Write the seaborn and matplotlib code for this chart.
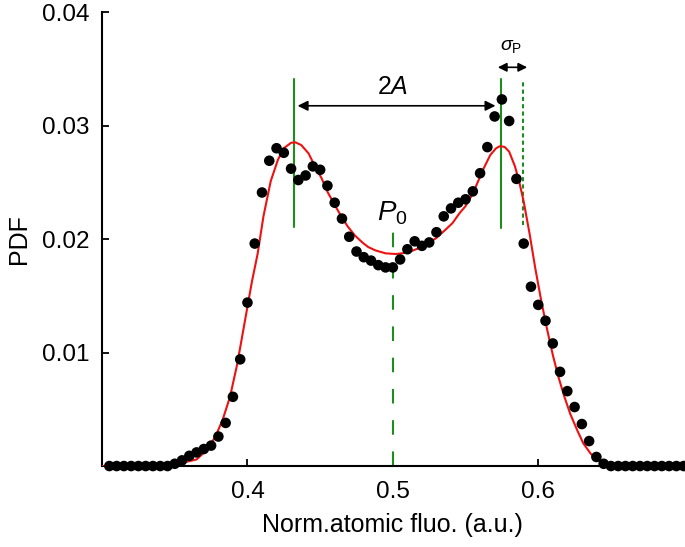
import numpy as np
import pandas as pd
import seaborn as sns
import matplotlib.pyplot as plt

# histogram bins (bin centres) and measured PDF
fluo = [0.305, 0.310, 0.315, 0.320, 0.325, 0.330, 0.335, 0.340, 0.345, 0.350,
        0.355, 0.360, 0.365, 0.370, 0.375, 0.380, 0.385, 0.390, 0.395, 0.400,
        0.405, 0.410, 0.415, 0.420, 0.425, 0.430, 0.435, 0.440, 0.445, 0.450,
        0.455, 0.460, 0.465, 0.470, 0.475, 0.480, 0.485, 0.490, 0.495, 0.500,
        0.505, 0.510, 0.515, 0.520, 0.525, 0.530, 0.535, 0.540, 0.545, 0.550,
        0.555, 0.560, 0.565, 0.570, 0.575, 0.580, 0.585, 0.590, 0.595, 0.600,
        0.605, 0.610, 0.615, 0.620, 0.625, 0.630, 0.635, 0.640, 0.645, 0.650,
        0.655, 0.660, 0.665, 0.670, 0.675, 0.680, 0.685, 0.690, 0.695, 0.700]
pdf = [0, 0, 0, 0, 0, 0, 0, 0, 0, 0.0002,
       0.0005, 0.0009, 0.0012, 0.0015, 0.0018, 0.0026, 0.0038, 0.0061, 0.0094, 0.0144,
       0.0196, 0.0241, 0.0269, 0.0280, 0.0276, 0.0262, 0.0252, 0.0256, 0.0264, 0.0261,
       0.0247, 0.0232, 0.0218, 0.0202, 0.0189, 0.0184, 0.0181, 0.0177, 0.0175, 0.0175,
       0.0182, 0.0191, 0.0198, 0.0194, 0.0197, 0.0206, 0.0220, 0.0227, 0.0232, 0.0235,
       0.0242, 0.0258, 0.0281, 0.0308, 0.0323, 0.0304, 0.0253, 0.0196, 0.0158, 0.0142,
       0.0128, 0.0108, 0.0083, 0.0066, 0.0052, 0.0037, 0.0022, 0.0008, 0.0002, 0,
       0, 0, 0, 0, 0, 0, 0, 0, 0, 0]

# fitted curve
fit_x = [0.300, 0.330, 0.345, 0.355, 0.365, 0.372, 0.378, 0.383, 0.388, 0.393,
         0.398, 0.403, 0.407, 0.411, 0.416, 0.421, 0.425, 0.430, 0.433, 0.437,
         0.442, 0.446, 0.451, 0.455, 0.460, 0.465, 0.469, 0.474, 0.479, 0.483,
         0.488, 0.495, 0.502, 0.510, 0.518, 0.524, 0.530, 0.536, 0.541, 0.546,
         0.550, 0.555, 0.559, 0.562, 0.567, 0.571, 0.574, 0.577, 0.580, 0.584,
         0.587, 0.590, 0.594, 0.598, 0.602, 0.606, 0.610, 0.614, 0.618, 0.622,
         0.627, 0.631, 0.636, 0.641, 0.645, 0.650, 0.660, 0.700]
fit_y = [0, 0.00002, 0.0001, 0.00028, 0.00058, 0.0014, 0.0026, 0.0041, 0.0061, 0.0090,
         0.0126, 0.0162, 0.0187, 0.0220, 0.0251, 0.0270, 0.0280, 0.02848, 0.02852, 0.02828,
         0.02755, 0.02652, 0.02535, 0.02417, 0.0230, 0.0219, 0.0211, 0.0203, 0.0197, 0.0193,
         0.0190, 0.01874, 0.01868, 0.0188, 0.0192, 0.0196, 0.0201, 0.0208, 0.0214, 0.0223,
         0.0229, 0.0240, 0.0252, 0.0261, 0.0274, 0.0280, 0.0282, 0.0281, 0.0277, 0.0264,
         0.0250, 0.0233, 0.0205, 0.0174, 0.0146, 0.0121, 0.0098, 0.0078, 0.0061, 0.0046,
         0.0031, 0.0020, 0.0011, 0.0005, 0.00024, 0.0001, 0, 0]

# markers on the plot
peak_left, peak_right = 0.432, 0.5745
p0 = 0.500
sigma_edge = 0.5896

df = pd.DataFrame({"x": fluo, "pdf": pdf})
fit = pd.DataFrame({"x": fit_x, "y": fit_y})

sns.set_style("ticks")
plt.rcParams['font.family'] = ['Liberation Sans', 'DejaVu Sans']
plt.rcParams['mathtext.fontset'] = 'custom'
plt.rcParams['mathtext.rm'] = 'Liberation Sans'
plt.rcParams['mathtext.it'] = 'Liberation Sans:italic'
plt.rcParams['text.color'] = 'black'
plt.rcParams['axes.labelcolor'] = 'black'

fig = plt.figure(figsize=(6.85, 5.47), dpi=100)
ax = fig.add_axes([0.149, 0.148, 0.849, 0.830])

green = '#1e8c1e'

# vertical guides
ax.plot([peak_left, peak_left], [0.0211, 0.0341], color=green, lw=1.5, zorder=2)
ax.plot([peak_right, peak_right], [0.0210, 0.0341], color=green, lw=1.5, zorder=2)
ax.plot([sigma_edge, sigma_edge], [0.0212, 0.0340], color=green, lw=1.5,
        linestyle=(0, (2, 1.5)), zorder=2)
ax.plot([p0, p0], [0, 0.0213], color=green, lw=1.5,
        linestyle=(0, (7, 8)), zorder=2, clip_on=False)

sns.lineplot(data=fit, x="x", y="y", color='#ee1111', lw=1.5, ax=ax, zorder=3)
sns.scatterplot(data=df, x="x", y="pdf", color='black', s=58, edgecolor='none',
                ax=ax, zorder=4, clip_on=False)

# arrows and labels
ax.annotate('', xy=(0.4345, 0.03174), xytext=(0.5706, 0.03174),
            arrowprops=dict(arrowstyle='<|-|>', color='black', lw=1.2,
                            mutation_scale=15, shrinkA=0, shrinkB=0))
ax.text(0.5, 0.0334, r'$2A$', fontsize=18, ha='center', va='center')
ax.annotate('', xy=(0.5722, 0.03513), xytext=(0.5924, 0.03513),
            arrowprops=dict(arrowstyle='<|-|>', color='black', lw=1.2,
                            mutation_scale=13, shrinkA=0, shrinkB=0))
ax.text(0.5815, 0.0370, r'$\sigma_{\mathrm{P}}$', fontsize=14, ha='center', va='center')
ax.text(0.4995, 0.0223, r'$P_0$', fontsize=20, ha='center', va='center')

ax.set_xlim(0.3, 0.7)
ax.set_ylim(0, 0.04)
ax.set_xticks([0.4, 0.5, 0.6])
ax.set_xticklabels(['0.4', '0.5', '0.6'])
ax.set_yticks([0.01, 0.02, 0.03, 0.04])
ax.set_yticklabels(['0.01', '0.02', '0.03', '0.04'])
ax.tick_params(direction='in', length=5, width=1.3, labelsize=17.5, colors='black')
ax.tick_params(axis='x', pad=11)
ax.tick_params(axis='y', pad=9)
ax.set_xlabel("Norm.atomic fluo. (a.u.)", fontsize=18, labelpad=7)
ax.set_ylabel("PDF", fontsize=18, labelpad=8)
sns.despine(ax=ax)
for s in ['left', 'bottom']:
    ax.spines[s].set_linewidth(1.5)
    ax.spines[s].set_color('black')

fig.savefig("out.png", dpi=100)
